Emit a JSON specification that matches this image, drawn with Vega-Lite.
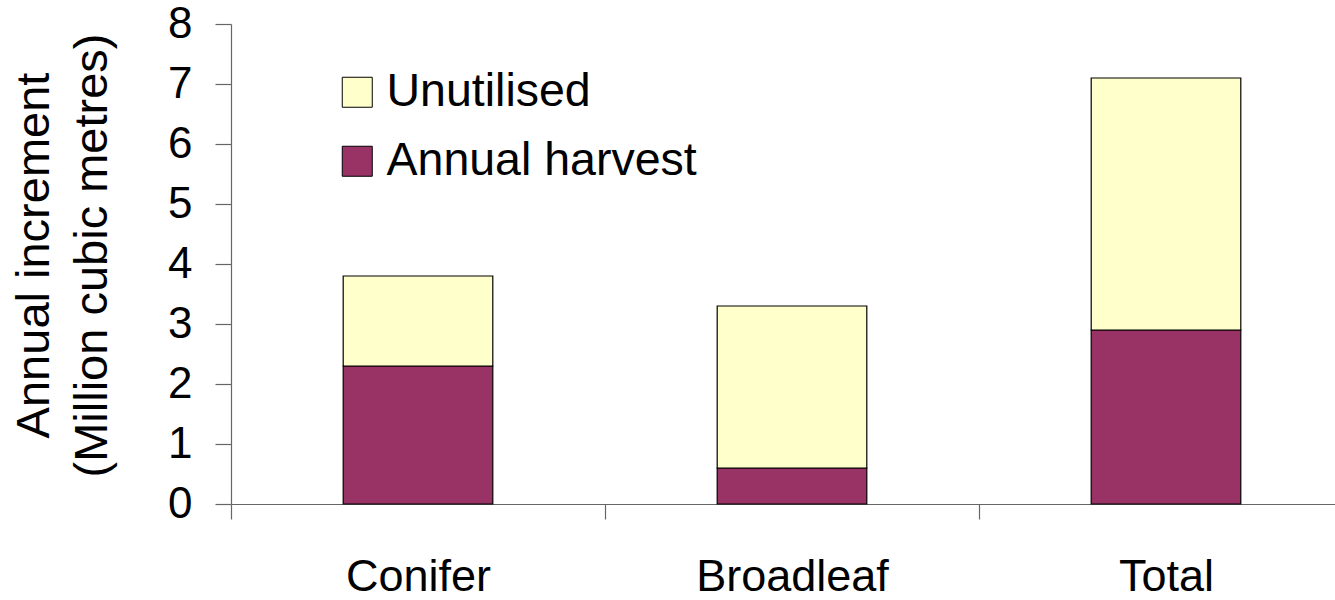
{
  "$schema": "https://vega.github.io/schema/vega-lite/v6.json",
  "autosize": {"type": "none"},
  "padding": {"left": 231, "top": 24, "right": 0, "bottom": 96},
  "width": 1104,
  "height": 480,
  "background": "white",
  "config": {
    "font": "Liberation Sans",
    "view": {"stroke": null}
  },
  "data": {
    "values": [
      {"type": "Conifer", "series": "Annual harvest", "rank": 1, "value": 2.3},
      {"type": "Conifer", "series": "Unutilised", "rank": 2, "value": 1.5},
      {"type": "Broadleaf", "series": "Annual harvest", "rank": 1, "value": 0.6},
      {"type": "Broadleaf", "series": "Unutilised", "rank": 2, "value": 2.7},
      {"type": "Total", "series": "Annual harvest", "rank": 1, "value": 2.9},
      {"type": "Total", "series": "Unutilised", "rank": 2, "value": 4.2}
    ]
  },
  "mark": {"type": "bar", "width": {"band": 0.4}, "stroke": "black", "strokeWidth": 1.2},
  "encoding": {
    "x": {
      "field": "type",
      "type": "nominal",
      "sort": ["Conifer", "Broadleaf", "Total"],
      "scale": {"range": [0, 1122], "paddingInner": 0, "paddingOuter": 0},
      "axis": {
        "title": null,
        "labelAngle": 0,
        "labelFontSize": 45,
        "labelColor": "black",
        "labelBaseline": "alphabetic",
        "labelPadding": 71,
        "labelLimit": 600,
        "tickBand": "extent",
        "tickSize": 15,
        "tickColor": "#666",
        "domainColor": "#666",
        "domainWidth": 1.2,
        "tickWidth": 1.2
      }
    },
    "y": {
      "field": "value",
      "type": "quantitative",
      "stack": "zero",
      "scale": {"domain": [0, 8], "nice": false},
      "axis": {
        "values": [0, 1, 2, 3, 4, 5, 6, 7, 8],
        "grid": false,
        "title": ["Annual increment", "(Million cubic metres)"],
        "titleFontSize": 47,
        "titleFontWeight": "normal",
        "titleColor": "black",
        "titleLineHeight": 58,
        "titleAngle": -90,
        "titleBaseline": "alphabetic",
        "titleAlign": "center",
        "titleX": -183,
        "titleY": 231,
        "titleLimit": 1000,
        "labelFontSize": 44,
        "labelColor": "black",
        "labelPadding": 23,
        "tickSize": 16,
        "tickColor": "#666",
        "domainColor": "#666",
        "domainWidth": 1.2,
        "tickWidth": 1.2
      }
    },
    "color": {
      "field": "series",
      "type": "nominal",
      "scale": {"domain": ["Unutilised", "Annual harvest"], "range": ["#FFFFCC", "#993366"]},
      "legend": {
        "title": null,
        "orient": "none",
        "legendX": 103,
        "legendY": 45,
        "symbolType": "square",
        "symbolSize": 900,
        "symbolStrokeColor": "black",
        "symbolStrokeWidth": 1,
        "labelFontSize": 46.5,
        "labelColor": "black",
        "labelOffset": 6,
        "rowPadding": 22,
        "labelLimit": 500
      }
    },
    "order": {"field": "rank", "type": "quantitative"}
  }
}
